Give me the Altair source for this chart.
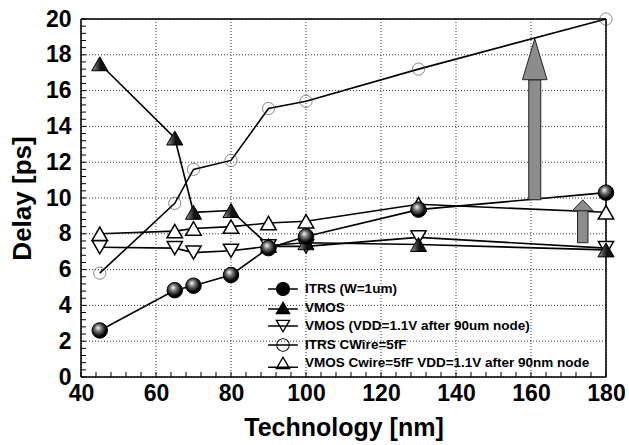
import math
import altair as alt
import pandas as pd

# ---------------- data ----------------
tech = [45, 65, 70, 80, 90, 100, 130, 180]
itrs_w = [2.6, 4.85, 5.1, 5.7, 7.2, 7.85, 9.35, 10.3]
vmos = [17.5, 13.35, 9.2, 9.3, 7.35, 7.5, 7.4, 7.1]
vmos_vdd = [7.25, 7.2, 6.95, 7.05, 7.3, 7.3, 7.8, 7.2]
itrs_cw = [5.8, 9.7, 11.6, 12.1, 15.0, 15.4, 17.2, 20.0]
vmos_cw = [8.0, 8.15, 8.3, 8.4, 8.6, 8.7, 9.65, 9.2]

series_names = [
    "ITRS (W=1um)",
    "VMOS",
    "VMOS (VDD=1.1V after 90um node)",
    "ITRS CWire=5fF",
    "VMOS Cwire=5fF VDD=1.1V after 90nm node",
]
series_values = [itrs_w, vmos, vmos_vdd, itrs_cw, vmos_cw]

x_ticks = [40, 60, 80, 100, 120, 140, 160, 180]
y_ticks = [0, 2, 4, 6, 8, 10, 12, 14, 16, 18, 20]
x_minor = list(range(40, 181, 4))
y_minor = [round(i * 0.4, 2) for i in range(51)]
frame_x = [40, 180]
frame_y = [0, 20]

# annotation arrows (data units)
arrow_x0 = [159.4, 172.4]
arrow_x1 = [162.6, 175.2]
arrow_xc = [161.0, 173.8]
arrow_base = [9.9, 7.5]
arrow_neck = [16.6, 9.3]
arrow_tip = [18.9, 9.9]
arrow_kind = ["big", "small"]

rows = []
for name, vals in zip(series_names, series_values):
    for t, v in zip(tech, vals):
        rows.append({"tech": t, "delay": v, "series": name})
df = pd.DataFrame(rows)

arrows = pd.DataFrame({
    "x0": arrow_x0, "x1": arrow_x1, "xc": arrow_xc,
    "base": arrow_base, "neck": arrow_neck, "tip": arrow_tip, "kind": arrow_kind,
})
xgrid = pd.DataFrame({"v": x_ticks})
ygrid = pd.DataFrame({"v": y_ticks})
xminor_df = pd.DataFrame({"v": x_minor})
yminor_df = pd.DataFrame({"v": y_minor})
xframe = pd.DataFrame({"v": frame_x})
yframe = pd.DataFrame({"v": frame_y})

# ---------------- style ----------------
FONT = "Liberation Sans"
W, H = 525, 358
XS = alt.Scale(domain=[40, 180], nice=False, zero=False)
YS = alt.Scale(domain=[0, 20], nice=False, zero=False)

AX_X = alt.Axis(
    orient="bottom", values=x_ticks, grid=False, ticks=False, domain=False,
    labelFont=FONT, labelFontSize=23, labelFontWeight="bold",
    labelColor="black", labelPadding=5, labelFlush=False,
    title="Technology [nm]", titleFont=FONT, titleFontSize=25, titleFontWeight="bold",
    titleColor="black", titlePadding=10,
)
AX_Y = alt.Axis(
    orient="left", values=y_ticks, grid=False, ticks=False, domain=False,
    labelFont=FONT, labelFontSize=23, labelFontWeight="bold",
    labelColor="black", labelPadding=10, labelFlush=False,
    title="Delay [ps]", titleFont=FONT, titleFontSize=26, titleFontWeight="bold",
    titleColor="black", titlePadding=10,
)

def X(field):
    return alt.X(field, scale=XS, axis=AX_X)

def Y(field):
    return alt.Y(field, scale=YS, axis=AX_Y)

GRID = dict(color="#333", strokeWidth=1, strokeDash=[1, 2])
vgrid = alt.Chart(xgrid).mark_rule(**GRID).encode(x=X("v:Q"))
hgrid = alt.Chart(ygrid).mark_rule(**GRID).encode(y=Y("v:Q"))

FRAME = dict(color="black", strokeWidth=1.5)
vframe = alt.Chart(xframe).mark_rule(**FRAME).encode(x=X("v:Q"))
hframe = alt.Chart(yframe).mark_rule(**FRAME).encode(y=Y("v:Q"))

TICK = dict(color="black", strokeWidth=1)
yticks_in = alt.Chart(yminor_df).mark_rule(**TICK).encode(
    y=Y("v:Q"), x=alt.value(0), x2=alt.value(5)
)
xticks_in = alt.Chart(xminor_df).mark_rule(**TICK).encode(
    x=X("v:Q"), y=alt.value(H - 5), y2=alt.value(H)
)

base = alt.Chart(df)

lines = base.mark_line(color="black", strokeWidth=1.6).encode(
    x=X("tech:Q"), y=Y("delay:Q"), detail="series:N"
)

def pts(name, **mark):
    return base.transform_filter(alt.datum.series == name).mark_point(**mark).encode(
        x=X("tech:Q"), y=Y("delay:Q")
    )

cw_pts = pts("ITRS CWire=5fF", shape="circle", size=150, filled=False,
             stroke="#444", strokeWidth=0.9)
vmos_cw_pts = pts("VMOS Cwire=5fF VDD=1.1V after 90nm node", shape="triangle-up",
                  size=240, filled=True, fill="white", stroke="black", strokeWidth=1.5,
                  opacity=1)
vdd_pts = pts("VMOS (VDD=1.1V after 90um node)", shape="triangle-down", size=230,
              filled=True, fill="white", stroke="black", strokeWidth=1.5, opacity=1)
vmos_pts = pts("VMOS", shape="triangle-up", size=260, filled=True,
               fill=alt.LinearGradient(gradient="linear", x1=0, y1=0, x2=1, y2=0,
                                       stops=[alt.GradientStop(color="#9a9a9a", offset=0),
                                              alt.GradientStop(color="#111", offset=0.55)]),
               stroke="black", strokeWidth=1, opacity=1)
sphere_pts = pts("ITRS (W=1um)", shape="circle", size=240, filled=True,
                 fill=alt.RadialGradient(gradient="radial", x1=0.38, y1=0.32, r1=0,
                                         x2=0.45, y2=0.42, r2=0.6,
                                         stops=[alt.GradientStop(color="white", offset=0),
                                                alt.GradientStop(color="#777", offset=0.35),
                                                alt.GradientStop(color="black", offset=0.8)]),
                 stroke="black", strokeWidth=1, opacity=1)

# arrows
abase = alt.Chart(arrows)
shafts = abase.mark_rect(fill="#8c8c8c", stroke="#222", strokeWidth=1).encode(
    x=X("x0:Q"), x2="x1:Q", y=Y("base:Q"), y2="neck:Q",
)
big_head = abase.transform_filter(alt.datum.kind == "big").mark_point(
    shape="M0,0L0.6,2L-0.6,2Z", size=1681, filled=True, fill="#8c8c8c",
    stroke="#222", strokeWidth=1, opacity=1,
).encode(x=X("xc:Q"), y=Y("tip:Q"))
small_head = abase.transform_filter(alt.datum.kind == "small").mark_point(
    shape="M0,0L1.9,2L-1.9,2Z", size=121, filled=True, fill="#8c8c8c",
    stroke="#222", strokeWidth=1, opacity=1,
).encode(x=X("xc:Q"), y=Y("tip:Q"))

# ---------- legend symbols: filled outlines (line + marker) ----------
def poly(pts_list):
    return "M" + "L".join(f"{px:.3f},{py:.3f}" for px, py in pts_list) + "Z"

def circle(r, n=28, reverse=False):
    p = [(r * math.cos(2 * math.pi * k / n), r * math.sin(2 * math.pi * k / n)) for k in range(n)]
    return p[::-1] if reverse else p

def shrink(tri, f):
    cx = sum(p[0] for p in tri) / 3
    cy = sum(p[1] for p in tri) / 3
    return [(cx + (px - cx) * f, cy + (py - cy) * f) for px, py in tri]

def hline(y0, half=0.1):
    return poly([(-2.1, y0 - half), (2.1, y0 - half), (2.1, y0 + half), (-2.1, y0 + half)])

tri_up = [(0, -1), (1.1, 0.9), (-1.1, 0.9)]
tri_dn = [(0, 1), (-1.1, -0.9), (1.1, -0.9)]

legend_paths = [
    hline(0) + poly(circle(1.0)),
    hline(0.15) + poly(tri_up),
    hline(0) + poly(tri_dn) + poly(shrink(tri_dn, 0.7)[::-1]),
    hline(0) + poly(circle(0.95)) + poly(circle(0.82, reverse=True)),
    hline(0.6) + poly(tri_up) + poly(shrink(tri_up, 0.7)[::-1]),
]
legend_fill = ["black"] * 5
leg = alt.Legend(
    orient="none", legendX=194, legendY=262, title=None, padding=0,
    labelFont=FONT, labelFontSize=13.5, labelFontWeight="bold", labelColor="black",
    labelLimit=500, labelOffset=14, rowPadding=-5, symbolSize=200,
)
legend_layer = base.transform_filter("datum.delay < -100").mark_point(
    filled=True, size=200, opacity=1
).encode(
    x=X("tech:Q"), y=Y("delay:Q"),
    shape=alt.Shape("series:N", scale=alt.Scale(domain=series_names, range=legend_paths), legend=leg),
    fill=alt.Fill("series:N", scale=alt.Scale(domain=series_names, range=legend_fill), legend=leg),
)

chart = alt.layer(
    lines, vgrid, hgrid, vframe, hframe, yticks_in, xticks_in, cw_pts, shafts,
    big_head, small_head, vmos_cw_pts, vdd_pts, vmos_pts, sphere_pts, legend_layer,
).properties(
    width=W, height=H, autosize="none",
    padding={"left": 81, "top": 19, "right": 23, "bottom": 68},
).configure_view(stroke="black", strokeWidth=1.5).configure(background="white")

chart.save("out.html", embed_options={"renderer": "svg", "actions": False})
